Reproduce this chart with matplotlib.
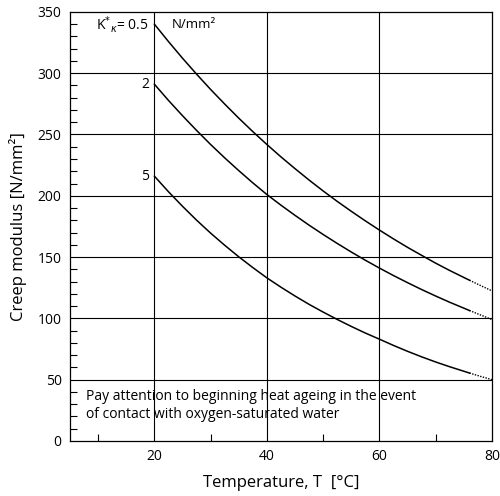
import numpy as np
import matplotlib
matplotlib.use("Agg")
import matplotlib.pyplot as plt
from matplotlib.ticker import MultipleLocator

plt.rcParams['font.family'] = ['Open Sans', 'DejaVu Sans']

# ************ data ************
temp_solid = [20, 22.5, 25, 27.5, 30, 32.5, 35, 37.5, 40, 42.5, 45, 47.5,
              50, 52.5, 55, 57.5, 60, 62.5, 65, 67.5, 70, 72.5, 76]
temp_dotted = [76, 78, 80]

mod_05 = [340, 325.8, 312.2, 299.2, 286.7, 274.8, 263.3, 252.3, 241.8, 231.7,
          222.1, 212.8, 203.9, 195.4, 187.3, 179.5, 172.0, 164.8, 157.9, 151.4,
          145.0, 139.0, 131.1]
mod_05_end = [131.1, 126.7, 122.4]
mod_2 = [291, 277.8, 265.3, 253.3, 241.8, 230.9, 220.5, 210.5, 201.0, 192.3,
         184.0, 176.0, 168.4, 161.1, 154.1, 147.4, 141.0, 134.9, 129.1, 123.5,
         118.2, 113.1, 106.4]
mod_2_end = [106.4, 102.7, 99.0]
mod_5 = [216, 203.3, 191.4, 180.1, 169.5, 159.6, 150.2, 141.4, 133.0, 125.4,
         118.2, 111.4, 105.1, 99.1, 93.4, 88.0, 83.0, 77.9, 73.1, 68.6,
         64.4, 60.5, 55.4]
mod_5_end = [55.4, 52.6, 50.0]

x_ticks = [20, 40, 60, 80]
y_ticks = [0, 50, 100, 150, 200, 250, 300, 350]

fig = plt.figure(figsize=(5.0, 4.96), dpi=100)
ax = fig.add_axes([0.14, 0.111, 0.844, 0.865])

# grid lines
for yv in y_ticks[1:-1]:
    ax.axhline(yv, color='black', lw=0.8, zorder=1)
for xv in x_ticks[:-1]:
    ax.axvline(xv, color='black', lw=0.8, zorder=1)

# curves, solid part then dotted extrapolation
for ys, ye in [(mod_05, mod_05_end), (mod_2, mod_2_end), (mod_5, mod_5_end)]:
    ax.plot(temp_solid, ys, color='black', lw=1.1, zorder=3)
    ax.plot(temp_dotted, ye, color='black', lw=1.0, ls=(0, (1, 1)), zorder=3)

ax.set_xlim(5, 80)
ax.set_ylim(0, 350)
ax.set_xticks(x_ticks)
ax.set_yticks(y_ticks)
ax.xaxis.set_minor_locator(MultipleLocator(10))
ax.yaxis.set_minor_locator(MultipleLocator(10))
ax.tick_params(which='major', length=0, labelsize=10, pad=6)
ax.tick_params(which='minor', direction='in', length=5, width=0.8,
               top=False, right=False)

for s in ax.spines.values():
    s.set_linewidth(0.9)

ax.set_xlabel('Temperature, T  [°C]', fontsize=12, labelpad=8)
ax.set_ylabel('Creep modulus [N/mm²]', fontsize=12, labelpad=8)

# curve labels
ax.text(19.0, 340, r'K$^{*}{}_{\kappa}$= 0.5', ha='right', va='center', fontsize=10)
ax.text(23.0, 340, 'N/mm²', ha='left', va='center', fontsize=9.5)
ax.text(19.0, 291, '2', ha='right', va='center', fontsize=10)
ax.text(19.0, 216, '5', ha='right', va='center', fontsize=10)

ax.text(7.8, 42, 'Pay attention to beginning heat ageing in the event\n'
        'of contact with oxygen-saturated water',
        ha='left', va='top', fontsize=10, linespacing=1.25)

fig.savefig('out.png', dpi=100)
